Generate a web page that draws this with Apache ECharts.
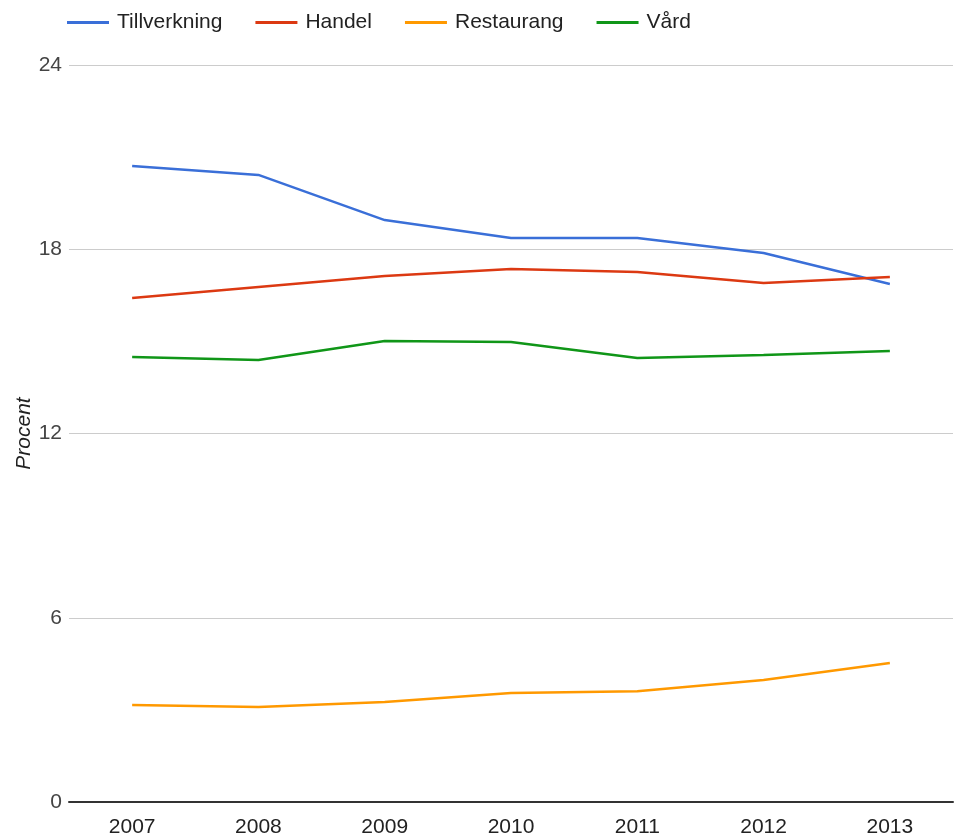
<!DOCTYPE html>
<html><head><meta charset="utf-8">
<script src="https://cdn.jsdelivr.net/npm/echarts@6/dist/echarts.min.js"></script>
<style>html,body{margin:0;padding:0;background:#fff;overflow:hidden}#c{width:954px;height:837px}</style>
</head><body><div id="c"></div>
<script>
const years = ['2007','2008','2009','2010','2011','2012','2013'];
const tillverkning = [20.71, 20.42, 18.95, 18.37, 18.37, 17.88, 16.87];
const handel = [16.41, 16.77, 17.13, 17.36, 17.26, 16.90, 17.10];
const restaurang = [3.16, 3.09, 3.26, 3.55, 3.61, 3.97, 4.53];
const vard = [14.49, 14.39, 15.01, 14.98, 14.46, 14.56, 14.69];
const seriesNames = ['Tillverkning','Handel','Restaurang','Vård'];
const colors = ['#3a6fd8','#dc3912','#ff9900','#109618'];

const chart = echarts.init(document.getElementById('c'), null, {renderer:'canvas'});
const font = 'Arial, "Liberation Sans", sans-serif';
const mk = (name, data, i) => ({
  name, type:'line', data, showSymbol:false, symbol:'none',
  lineStyle:{width:2.5, color:colors[i]}, itemStyle:{color:colors[i]}, animation:false
});
chart.setOption({
  animation:false,
  legend:{
    left:67, top:12, icon:'rect', itemWidth:42, itemHeight:3, itemGap:33,
    padding:0,
    textStyle:{fontFamily:font, fontSize:21, color:'#222', padding:[0,0,0,3]},
    data:seriesNames
  },
  grid:{left:69, right:1, top:65, bottom:35, containLabel:false, outerBoundsMode:'none'},
  xAxis:{
    type:'category', data:years, boundaryGap:true,
    axisLine:{lineStyle:{color:'#333', width:2}},
    axisTick:{show:false},
    axisLabel:{fontFamily:font, fontSize:21, color:'#222', margin:15}
  },
  yAxis:{
    type:'value', min:0, max:24, interval:6,
    name:'Procent', nameLocation:'middle', nameGap:34, nameMoveOverlap:false,
    nameTextStyle:{fontFamily:font, fontSize:21, fontStyle:'italic', color:'#222'},
    axisLine:{show:false}, axisTick:{show:false},
    axisLabel:{fontFamily:font, fontSize:21, color:'#444', margin:7},
    splitLine:{lineStyle:{color:'#cccccc', width:1}}
  },
  series:[mk(seriesNames[0], tillverkning, 0), mk(seriesNames[1], handel, 1), mk(seriesNames[2], restaurang, 2), mk(seriesNames[3], vard, 3)]
});
</script></body></html>
